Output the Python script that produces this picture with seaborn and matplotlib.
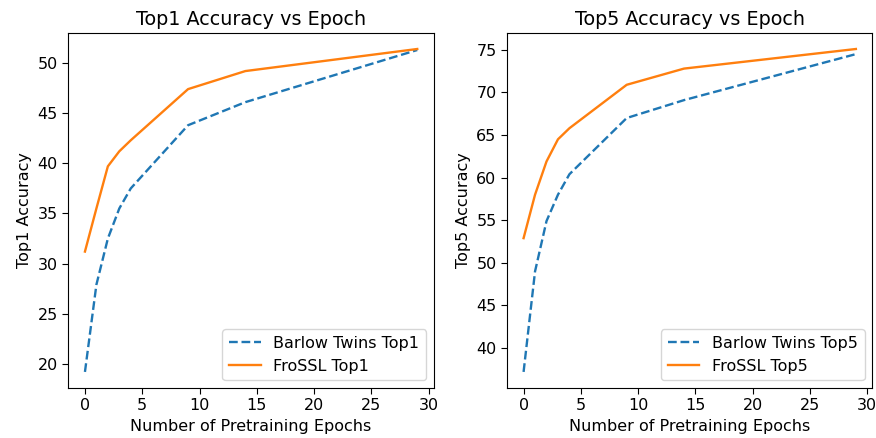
import numpy as np
import pandas as pd
import seaborn as sb
import matplotlib
matplotlib.use("Agg")
import matplotlib.pyplot as plt

epochs = [0, 1, 2, 3, 4, 9, 14, 29]

barlow_top1 = [19.2, 27.9, 32.5, 35.5, 37.5, 43.8, 46.1, 51.3]
frossl_top1 = [31.2, 35.5, 39.7, 41.2, 42.3, 47.4, 49.2, 51.4]

barlow_top5 = [37.2, 49.0, 54.9, 58.0, 60.4, 67.0, 69.1, 74.5]
frossl_top5 = [52.9, 58.0, 61.9, 64.5, 65.8, 70.9, 72.8, 75.1]

# reference looks like a slightly scaled-up default matplotlib figure
plt.rcParams["font.size"] = 11.5
plt.rcParams["lines.linewidth"] = 1.7
plt.rcParams["xtick.major.size"] = 4
plt.rcParams["ytick.major.size"] = 4

fig, axes = plt.subplots(1, 2, figsize=(8.76, 4.38), dpi=100)

panels = [
    ("Top1", barlow_top1, frossl_top1),
    ("Top5", barlow_top5, frossl_top5),
]

for ax, (name, barlow, frossl) in zip(axes, panels):
    sb.lineplot(x=epochs, y=barlow, ax=ax, color="C0", linestyle="--",
                label="Barlow Twins " + name)
    sb.lineplot(x=epochs, y=frossl, ax=ax, color="C1",
                label="FroSSL " + name)
    ax.set_title(name + " Accuracy vs Epoch")
    ax.set_xlabel("Number of Pretraining Epochs")
    ax.set_ylabel(name + " Accuracy")
    ax.legend(loc="lower right")

plt.subplots_adjust(left=0.078, right=0.996, bottom=0.114, top=0.925, wspace=0.2)
plt.savefig("out.png")
plt.close()
